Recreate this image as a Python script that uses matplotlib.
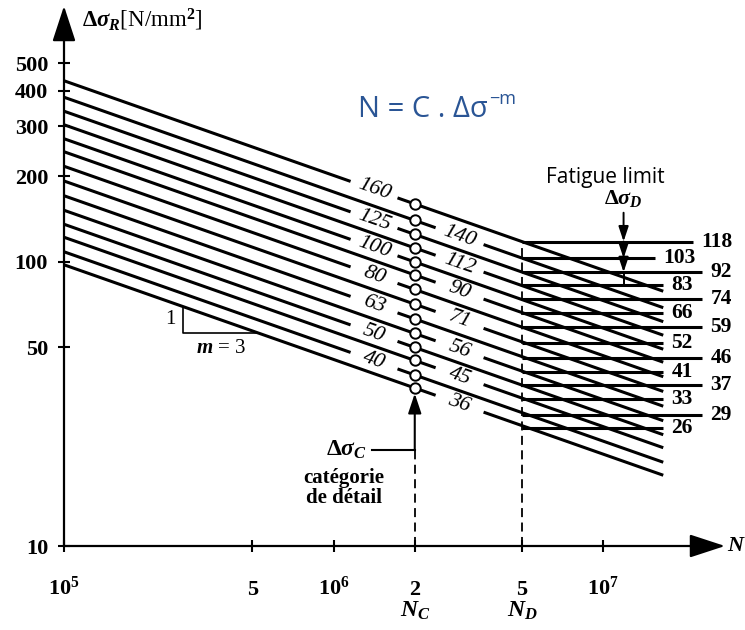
import numpy as np
import matplotlib.pyplot as plt
from matplotlib.ticker import NullLocator

plt.rcParams['font.family'] = ['Liberation Serif', 'DejaVu Serif']
plt.rcParams['font.weight'] = 'bold'
plt.rcParams['mathtext.fontset'] = 'custom'
plt.rcParams['mathtext.rm'] = 'Liberation Serif:bold'
plt.rcParams['mathtext.it'] = 'Liberation Serif:italic:bold'
plt.rcParams['mathtext.bf'] = 'Liberation Serif:bold'

# detail categories (stress range at N_C = 2e6) and their fatigue limits at N_D
categories = [160, 140, 125, 112, 100, 90, 80, 71, 63, 56, 50, 45, 40, 36]
fatigue_limits = [118, 103, 92, 83, 74, 66, 59, 52, 46, 41, 37, 33, 29, 26]
limit_ends = [2.15e7, 1.56e7, 2.33e7, 1.67e7, 2.33e7, 1.67e7, 2.33e7,
              1.67e7, 2.33e7, 1.67e7, 2.33e7, 1.67e7, 2.33e7, 1.67e7]
x_ticks = [1e5, 5e5, 1e6, 2e6, 5e6, 1e7]
x_ticklabels = ['$10^5$', '5', '$10^6$', '2', '5', '$10^7$']
y_ticks = [10, 50, 100, 200, 300, 400, 500]

N_C = 2e6
N_D = 5e6
m = 3
N_start, N_stop = 1e5, 1.67e7


def stress(c, N):
    return c * (N_C / np.asarray(N)) ** (1 / m)


fig = plt.figure(figsize=(7.45, 6.3), dpi=100)
ax = fig.add_axes([64 / 745, 84 / 630, 661 / 745, 540 / 630])
ax.set_xscale('log')
ax.set_yscale('log')
ax.set_xlim(1e5, 2.83e7)
ax.set_ylim(10, 796)
for s in ax.spines.values():
    s.set_visible(False)

# axes with arrow heads
arrow = dict(arrowstyle='-|>,head_length=1.1,head_width=0.36', lw=1.6,
             color='black', mutation_scale=20, shrinkA=0, shrinkB=0)
ax.annotate('', xy=(1, 0), xytext=(0, 0), xycoords='axes fraction', arrowprops=arrow)
ax.annotate('', xy=(0, 1), xytext=(0, 0), xycoords='axes fraction', arrowprops=arrow)

ax.set_yticks(y_ticks, [str(v) for v in y_ticks])
ax.set_xticks(x_ticks, [''] * len(x_ticks))
ax.xaxis.set_minor_locator(NullLocator())
ax.yaxis.set_minor_locator(NullLocator())
ax.tick_params(which='both', direction='inout', length=9, width=1.5,
               top=False, right=False)
ax.tick_params(axis='y', labelsize=16, pad=7)

xlab_tr = ax.get_xaxis_transform()
for xv, lab in zip(x_ticks, x_ticklabels):
    ax.text(xv, -0.091, lab, transform=xlab_tr, ha='center', va='baseline', fontsize=16)
ax.text(N_C, -0.131, '$\\mathit{N_C}$', transform=xlab_tr, ha='center', va='baseline', fontsize=17)
ax.text(N_D, -0.131, '$\\mathit{N_D}$', transform=xlab_tr, ha='center', va='baseline', fontsize=17)
ax.text(1.003, 0, '$\\mathit{N}$', transform=ax.transAxes, ha='left', va='center', fontsize=16)
ax.text(0.027, 0.974, '$\\mathit{\\Delta\\sigma_R}$[N/mm$^2$]', transform=ax.transAxes,
        ha='left', va='center', fontsize=16.5, fontweight='normal')

# angle of the m=3 lines on screen
p = ax.transData.transform([(1e5, stress(100, 1e5)), (1e7, stress(100, 1e7))])
angle = np.degrees(np.arctan2(p[1, 1] - p[0, 1], p[1, 0] - p[0, 0]))

lw = 2.2
for i, c in enumerate(categories):
    if i % 2 == 0:
        gap, lab_N = (1.156e6, 1.726e6), 1.413e6
    else:
        gap, lab_N = (2.39e6, 3.6e6), 2.93e6
    for a, b in [(N_start, gap[0]), (gap[1], N_stop)]:
        ax.plot([a, b], stress(c, [a, b]), color='black', lw=lw, solid_capstyle='butt')
    ax.text(lab_N, stress(c, lab_N), str(c), rotation=angle, rotation_mode='anchor',
            ha='center', va='center', fontsize=16, style='italic', fontweight='normal')

ax.plot([N_C] * len(categories), categories, 'o', mfc='white', mec='black',
        ms=7.5, mew=1.4, zorder=5)

# fatigue limits
ax.hlines(fatigue_limits, N_D, limit_ends, color='black', lw=lw)
for v, e in zip(fatigue_limits, limit_ends):
    ax.annotate(str(v), xy=(e, v), xytext=(6, 0), textcoords='offset points',
                ha='left', va='center', fontsize=15.5)

ax.plot([N_D, N_D], [10, fatigue_limits[0]], color='black', lw=1.3, ls=(0, (5, 3)))
ax.plot([N_C, N_C], [10, 21.8], color='black', lw=1.3, ls=(0, (5, 3)))

# detail category pointer
ax.plot([1.39e6, N_C], [21.8, 21.8], color='black', lw=1.5)
ax.annotate('', xy=(N_C, categories[-1]), xytext=(N_C, 21.8),
            arrowprops=dict(arrowstyle='-|>,head_length=0.6,head_width=0.2', lw=1.5,
                            color='black', mutation_scale=20, shrinkA=0, shrinkB=4))
ax.annotate('$\\mathit{\\Delta\\sigma_C}$', xy=(1.39e6, 21.8), xytext=(-4, 0),
            textcoords='offset points', ha='right', va='center', fontsize=17)
ax.text(1.09e6, 16.0, 'catégorie\nde détail', ha='center', va='center', fontsize=15,
        linespacing=0.95)

# fatigue limit pointer
N_arr = 1.19e7
pts = [149] + fatigue_limits[:3]
for top, bot in zip(pts[:-1], pts[1:]):
    ax.annotate('', xy=(N_arr, bot), xytext=(N_arr, top),
                arrowprops=dict(arrowstyle='-|>,head_length=0.45,head_width=0.15', lw=1.4,
                                color='black', mutation_scale=20, shrinkA=0, shrinkB=0))
ax.plot([N_arr, N_arr], [fatigue_limits[2], fatigue_limits[3]], color='black', lw=1.4)
ax.text(1.02e7, 199, 'Fatigue limit', ha='center', va='center', fontsize=15,
        family=['Open Sans', 'DejaVu Sans'], fontweight='normal')
ax.text(N_arr, 167, '$\\mathit{\\Delta\\sigma_D}$', ha='center', va='center', fontsize=16)

# slope triangle on the lowest line
N1, N2 = 2.76e5, 5.27e5
c0 = categories[-1]
ax.plot([N1, N1, N2], [stress(c0, N1), stress(c0, N2), stress(c0, N2)], color='black', lw=1.2)
ax.annotate('1', xy=(N1, np.sqrt(stress(c0, N1) * stress(c0, N2))), xytext=(-5, 0),
            textcoords='offset points', ha='right', va='center', fontsize=15,
            fontweight='normal')
ax.annotate('$\\mathit{m}$ = 3', xy=(3.81e5, stress(c0, N2)), xytext=(0, -4),
            textcoords='offset points', ha='center', va='top', fontsize=15,
            fontweight='normal')

# formula
blue = '#2A5595'
t = ax.text(2.15e6, 343, 'N = C . Δσ', ha='center', va='center', fontsize=21,
            color=blue, family=['Open Sans', 'DejaVu Sans'], fontweight='normal')
ax.annotate('−m', xy=(1, 1), xycoords=t, xytext=(1, 4), textcoords='offset points',
            ha='left', va='top', fontsize=13, color=blue, family=['Open Sans', 'DejaVu Sans'],
            fontweight='normal')

fig.savefig('out.png', dpi=100)
